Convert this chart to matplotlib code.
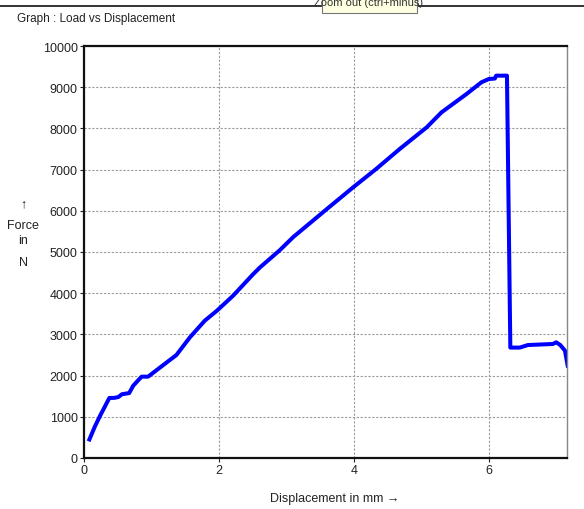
import matplotlib
matplotlib.use('Agg')
import matplotlib.pyplot as plt
from matplotlib.patches import Rectangle

# Load vs displacement readings
displacement_mm = [0.08, 0.16, 0.24, 0.31, 0.375, 0.45, 0.51, 0.56, 0.67, 0.73, 0.80,
                   0.855, 0.95, 1.13, 1.37, 1.57, 1.79, 1.97, 2.21, 2.51, 2.61, 2.90,
                   3.10, 3.60, 3.99, 4.33, 4.68, 5.08, 5.30, 5.67, 5.89, 6.00,
                   6.09, 6.11, 6.27, 6.32, 6.46, 6.58, 6.95, 7.00, 7.06, 7.13, 7.17]
force_n = [450, 760, 1030, 1250, 1456, 1460, 1480, 1546, 1577, 1755, 1880,
           1974, 1974, 2200, 2500, 2929, 3332, 3575, 3939, 4466, 4628, 5040,
           5360, 6043, 6570, 7014, 7500, 8026, 8390, 8834, 9118, 9198,
           9210, 9280, 9280, 2680, 2680, 2742, 2767, 2808, 2742, 2605, 2240]

x_ticks = [0, 2, 4, 6]
y_ticks = list(range(0, 10001, 1000))

plt.rcParams['font.family'] = ['Liberation Sans', 'DejaVu Sans']

fig = plt.figure(figsize=(5.84, 5.10), dpi=100, facecolor='white')
ax = fig.add_axes([84 / 584, 51 / 510, 483 / 584, 412 / 510])

ax.plot(displacement_mm, force_n, color='#0000ff', linewidth=2.9, solid_joinstyle='round')

ax.set_xlim(0, 7.16)
ax.set_ylim(0, 10000)
ax.set_xticks(x_ticks)
ax.set_yticks(y_ticks)
ax.tick_params(axis='both', labelsize=9, colors='#222222', length=3, width=0.8,
               direction='out', pad=1.5)
ax.grid(True, linestyle=(0, (2, 1.5)), color='#9a9a9a', linewidth=0.8)

for side in ['left', 'bottom', 'top']:
    ax.spines[side].set_linewidth(1.6)
    ax.spines[side].set_color('#111111')
ax.spines['right'].set_linewidth(1.0)
ax.spines['right'].set_color('#888888')

fig.text(270 / 584, 1 - 499 / 510, 'Displacement in mm \u2192', ha='left', va='center',
         fontsize=9, color='#222222')

# y label stacked like the original app
fig.text(23 / 584, 1 - 204 / 510, '\u2191', ha='center', va='center', fontsize=9, color='#222222')
fig.text(23 / 584, 1 - 226 / 510, 'Force', ha='center', va='center', fontsize=9, color='#222222')
fig.text(23 / 584, 1 - 241 / 510, 'in', ha='center', va='center', fontsize=9, color='#222222')
fig.text(23 / 584, 1 - 263 / 510, 'N', ha='center', va='center', fontsize=9, color='#222222')

fig.text(17 / 584, 1 - 19 / 510, 'Graph : Load vs Displacement', ha='left', va='center',
         fontsize=8.5, color='#222222')

# window separator line and clipped tooltip at top
fig.add_artist(plt.Line2D([0, 1], [1 - 7 / 510, 1 - 7 / 510], color='#111111', linewidth=1.2))
tip = Rectangle((322 / 584, 1 - 14 / 510), 95 / 584, 16 / 510, transform=fig.transFigure,
                facecolor='#ffffe1', edgecolor='#777777', linewidth=0.8, zorder=5)
fig.add_artist(tip)
fig.text(369 / 584, 1 - 3 / 510, 'Zoom out (ctrl+minus)', ha='center', va='center', fontsize=8,
         color='#333333', zorder=6)

plt.savefig('out.png', dpi=100)
plt.close()
